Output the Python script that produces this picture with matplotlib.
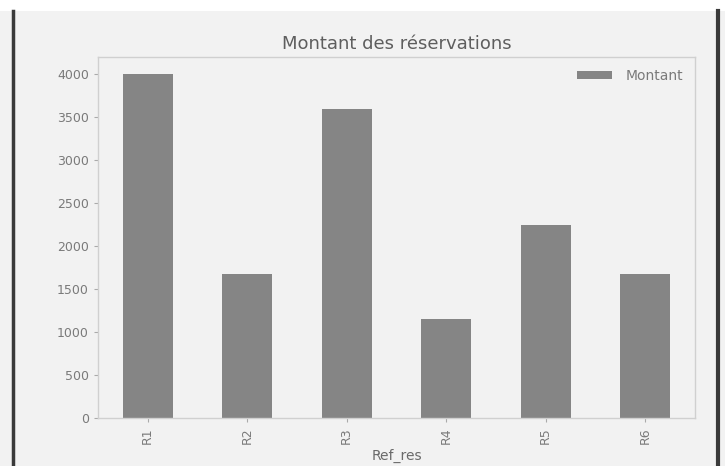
import matplotlib
matplotlib.use("Agg")
import matplotlib.pyplot as plt
from matplotlib.lines import Line2D
from matplotlib.patches import Rectangle

# Data
refs = ["R1", "R2", "R3", "R4", "R5", "R6"]
montant = [4000, 1680, 3600, 1150, 2240, 1680]

bg = "#f2f2f2"
spine_col = "#d0d0d0"
bar_col = "#858585"
label_col = "#7a7a7a"

fig = plt.figure(figsize=(7.25, 4.66), dpi=100, facecolor=bg)

# window frame: white band on top, dark edges left and right
fig.patches.append(Rectangle((0, 1 - 11 / 466), 1, 11 / 466, transform=fig.transFigure,
                             facecolor="white", edgecolor="none", zorder=0))
fig.lines.append(Line2D([12.5 / 725, 12.5 / 725], [0, 1 - 11 / 466], transform=fig.transFigure,
                        color="#3a3a3a", linewidth=2.5))
fig.lines.append(Line2D([718 / 725, 718 / 725], [0, 1 - 11 / 466], transform=fig.transFigure,
                        color="#3a3a3a", linewidth=3))

ax = fig.add_axes([98 / 725, 1 - 418 / 466, 597 / 725, 361 / 466], facecolor=bg)

x = list(range(len(refs)))
ax.bar(x, montant, width=0.5, color=bar_col, label="Montant", zorder=2)
ax.set_xlim(-0.5, len(refs) - 0.5)
ax.set_ylim(0, 4200)
ax.set_yticks(range(0, 4001, 500))
ax.set_xticks(x)
ax.set_xticklabels(refs, rotation=90)

for s in ax.spines.values():
    s.set_color(spine_col)
    s.set_linewidth(1.0)

ax.tick_params(labelsize=9, length=3, width=0.8, color="#aaaaaa", labelcolor=label_col)

ax.set_title("Montant des réservations", color="#5e5e5e", fontsize=13, pad=6)
ax.set_xlabel("Ref_res", color="#6a6a6a", fontsize=10, labelpad=4)

leg = ax.legend(loc="upper right", frameon=False, fontsize=10, handlelength=2.5,
                handleheight=0.55, handletextpad=1.0, borderaxespad=0.45)
for t in leg.get_texts():
    t.set_color(label_col)

fig.savefig("out.png", dpi=100, facecolor=bg)
